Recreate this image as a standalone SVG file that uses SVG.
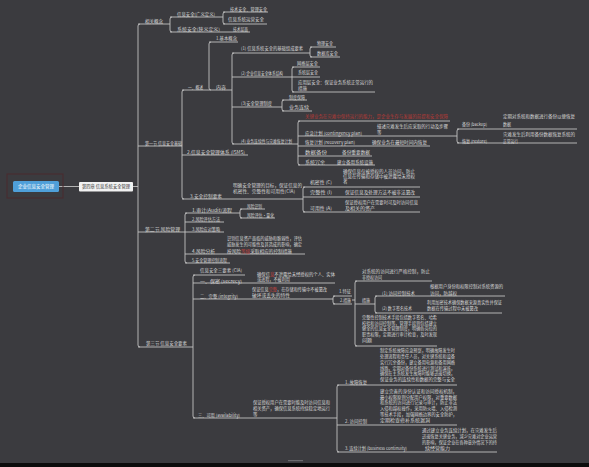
<svg xmlns="http://www.w3.org/2000/svg" width="589" height="467" viewBox="0 0 589 467">
<style>
.t{font-family:"Noto Sans CJK SC","Noto Sans",sans-serif;font-size:4.5px;fill:#d8d8d8}
.r{fill:#c0443f}
.rt{font-family:"Noto Sans CJK SC","Noto Sans",sans-serif;font-size:4.5px;fill:#b83a36}
.c{fill:none;stroke:#c9c9c9;stroke-width:0.85}
</style>
<rect width="589" height="467" fill="#3b3b3f"/>
<rect x="0" y="463" width="589" height="4" fill="#0c0c0c"/>
<rect x="288" y="460" width="15" height="1.2" fill="#6a6a6e"/>

<g id="connectors" class="c">
<path d="M59,186.5H79M133,186.5H138"/>
<path d="M140,24Q138,24 138,26V345Q138,347 140,347"/>
<path d="M138,24H170M138,146H182M138,232H185M138,347H193"/>
<path d="M172,17Q170,17 170,19V30Q170,32 172,32M170,17H223M225,12Q223,12 223,14V22Q223,24 225,24M223,12H268M223,24H267M170,32H250"/>
<path d="M184,90Q182,90 182,92V197Q182,199 184,199M182,90H232"/>
<path d="M211,42Q209,42 209,44V88Q209,90 211,90M209,42H238"/>
<path d="M234,53Q232,53 232,55V142Q232,144 234,144"/>
<path d="M232,53H310M312,47Q310,47 310,49V55Q310,57 312,57M310,47H336M310,57H340"/>
<path d="M232,77H292M294,67Q292,67 292,69V90Q292,92 294,92M292,67H320M292,77H320M292,92H375"/>
<path d="M232,107H282M284,100Q282,100 282,102V109Q282,111 284,111M282,100H307M282,111H312"/>
<path d="M232,144H298M300,121Q298,121 298,123V163Q298,165 300,165M298,121H450M298,136H457M298,146H430M298,156H372M298,165H375"/>
<path d="M459,129Q457,129 457,131V141Q457,143 459,143M457,129H577M457,143H577"/>
<path d="M182,155H248"/>
<path d="M182,199H303M305,187Q303,187 303,189V210Q303,212 305,212M303,187H420M303,197H420M303,212H420"/>
<path d="M187,213Q185,213 185,215V261Q185,263 187,263M185,213H240M242,209Q240,209 240,211V216Q240,218 242,218M240,209H265M240,218H275M185,222H224M185,232H224M185,254H305M185,263H230"/>
<path d="M195,275Q193,275 193,277V416Q193,418 195,418M193,275H245M193,283H335M193,299H333"/>
<path d="M335,296Q333,296 333,298V302Q333,304 335,304M333,296H352M333,304H352M352,300H355"/>
<path d="M357,281Q355,281 355,283V344Q355,346 357,346M355,281H432M355,304H375M355,346H437"/>
<path d="M377,296Q375,296 375,298V311Q375,313 377,313M375,296H505M375,313H502"/>
<path d="M193,418H337M339,385Q337,385 337,387V450Q337,452 339,452M337,385H457M337,425H457M337,452H497"/>
</g>

<g id="root">
<rect x="7" y="174" width="56" height="24" fill="none" stroke="#4a2b2f" stroke-width="1"/>
<rect x="13" y="181" width="46" height="11" rx="1.5" fill="#4f9fd9"/>
<text x="36" y="188.1" text-anchor="middle" class="t" style="fill:#fff">企业信息安全管理</text>
</g>
<g id="chapter">
<rect x="79" y="182" width="54" height="9.5" rx="1" fill="#f2f2f2"/>
<text x="106" y="188.4" text-anchor="middle" class="t" style="fill:#333" textLength="48" lengthAdjust="spacingAndGlyphs">第四章 信息系统安全管理</text>
</g>

<g id="s0"><text class="t" x="145" y="22.6">相关概念</text></g>
<g id="a1"><text class="t" x="177" y="15.6" textLength="38" lengthAdjust="spacingAndGlyphs">信息安全(广义定义)</text></g>
<g id="a1a"><text class="t" x="230" y="10.6" textLength="37" lengthAdjust="spacingAndGlyphs">技术安全、管理安全</text></g>
<g id="a1b"><text class="t" x="228" y="20.6">信息系统运营安全</text></g>
<g id="a2"><text class="t" x="177" y="30.6" textLength="43" lengthAdjust="spacingAndGlyphs">系统安全(狭义定义)</text></g>
<g id="a2a"><text class="t" x="233" y="30.6" textLength="15" lengthAdjust="spacingAndGlyphs">技术层面</text></g>

<g id="s1"><text class="t" x="145" y="144.6" textLength="37" lengthAdjust="spacingAndGlyphs">第一节 信息安全基础</text></g>
<g id="b1"><text class="t" x="188" y="88.6" textLength="15" lengthAdjust="spacingAndGlyphs">一、概述</text></g>
<g id="b1a"><text class="t" x="216" y="39.6" textLength="21" lengthAdjust="spacingAndGlyphs">1.基本概念</text></g>
<g id="b1b"><text class="t" x="216" y="88.6" textLength="10" lengthAdjust="spacingAndGlyphs">内容</text></g>
<g id="c1"><text class="t" x="241" y="49.6" textLength="62" lengthAdjust="spacingAndGlyphs">(1) 信息系统安全的基础组成要素</text></g>
<g id="c1a"><text class="t" x="317" y="44.6" textLength="16" lengthAdjust="spacingAndGlyphs">物理安全</text></g>
<g id="c1b"><text class="t" x="317" y="54.6" textLength="21" lengthAdjust="spacingAndGlyphs">数据库安全</text></g>
<g id="c2"><text class="t" x="241" y="74.6" textLength="42" lengthAdjust="spacingAndGlyphs">(2) 企业信息安全体系结构</text></g>
<g id="c2a"><text class="t" x="297" y="64.6" textLength="21" lengthAdjust="spacingAndGlyphs">网络层安全</text></g>
<g id="c2b"><text class="t" x="298" y="73.6" textLength="20" lengthAdjust="spacingAndGlyphs">系统层安全</text></g>
<g id="c2c"><text class="t" x="298" y="83.6" textLength="75" lengthAdjust="spacingAndGlyphs">应用层安全：保证业务系统正常运行的</text><text class="t" x="298" y="89.6">措施</text></g>
<g id="c3"><text class="t" x="241" y="104.6" textLength="31" lengthAdjust="spacingAndGlyphs">(3)安全管理制度</text></g>
<g id="c3a"><text class="t" x="289" y="98.6" textLength="16" lengthAdjust="spacingAndGlyphs">制度保障</text></g>
<g id="c3b"><text class="t" x="289" y="108.6" textLength="20" lengthAdjust="spacingAndGlyphs">业务连续</text></g>
<g id="c4"><text class="t" x="241" y="142.6" textLength="51" lengthAdjust="spacingAndGlyphs">(4) 业务连续性与灾难恢复计划</text></g>
<g id="c4r"><text class="rt" x="305" y="117.6" textLength="143" lengthAdjust="spacingAndGlyphs">关键业务在灾难中保持运行的能力，是企业生存与发展的前提和安全保障</text></g>
<g id="c4a"><text class="t" x="305" y="134.6" textLength="57" lengthAdjust="spacingAndGlyphs">应急计划 (contingency plan)</text><text class="t" x="377" y="127.6" textLength="71" lengthAdjust="spacingAndGlyphs">描述灾难发生后应采取的行动及步骤</text><text class="t" x="377" y="133.6">等</text></g>
<g id="c4a1"><text class="t" x="462" y="125.6" textLength="25" lengthAdjust="spacingAndGlyphs">备份 (backup)</text><text class="t" x="503" y="117.6" textLength="72" lengthAdjust="spacingAndGlyphs">定期对系统和数据进行备份以便恢复</text><text class="t" x="503" y="125.6" textLength="8" lengthAdjust="spacingAndGlyphs">数据</text></g>
<g id="c4a2"><text class="t" x="462" y="142.6" textLength="25" lengthAdjust="spacingAndGlyphs">恢复 (restore)</text><text class="t" x="503" y="135.6" textLength="72" lengthAdjust="spacingAndGlyphs">灾难发生后利用备份数据恢复系统的</text><text class="t" x="503" y="142.6" textLength="15" lengthAdjust="spacingAndGlyphs">正常运行</text></g>
<g id="c4b"><text class="t" x="305" y="143.6" textLength="50" lengthAdjust="spacingAndGlyphs">恢复计划 (recovery plan)</text><text class="t" x="372" y="143.6" textLength="55" lengthAdjust="spacingAndGlyphs">确保业务在最短时间内恢复</text></g>
<g id="c4c"><text class="t" x="305" y="153.6" textLength="22" lengthAdjust="spacingAndGlyphs">数据备份</text><text class="t" x="342" y="153.6" textLength="28" lengthAdjust="spacingAndGlyphs">备份重要数据</text></g>
<g id="c4d"><text class="t" x="305" y="163.6" textLength="20" lengthAdjust="spacingAndGlyphs">系统冗余</text><text class="t" x="337" y="163.6" textLength="36" lengthAdjust="spacingAndGlyphs">建立备用系统设施</text></g>
<g id="b2"><text class="t" x="187" y="153.6" textLength="58" lengthAdjust="spacingAndGlyphs">2.信息安全管理体系 (ISMS)</text></g>
<g id="b3"><text class="t" x="190" y="197.6" textLength="32" lengthAdjust="spacingAndGlyphs">3.安全控制要素</text><text class="t" x="233" y="186.6" textLength="69" lengthAdjust="spacingAndGlyphs">明确安全管理的目标，保证信息的</text><text class="t" x="233" y="192.6" textLength="62" lengthAdjust="spacingAndGlyphs">机密性、完整性和可用性(CIA)</text></g>
<g id="b3a"><text class="t" x="310" y="183.6" textLength="22" lengthAdjust="spacingAndGlyphs">机密性 (C)</text><text class="t" x="343" y="172.6" textLength="72" lengthAdjust="spacingAndGlyphs">确保信息仅被授权的人员访问，防止</text><text class="t" x="343" y="177.6" textLength="72" lengthAdjust="spacingAndGlyphs">信息在传输和存储中被泄露给未授权</text><text class="t" x="343" y="182.6">者</text></g>
<g id="b3b"><text class="t" x="310" y="193.6" textLength="22" lengthAdjust="spacingAndGlyphs">完整性 (I)</text><text class="t" x="345" y="193.6" textLength="70" lengthAdjust="spacingAndGlyphs">保证信息及处理方法不被非法篡改</text></g>
<g id="b3c"><text class="t" x="310" y="209.6" textLength="22" lengthAdjust="spacingAndGlyphs">可用性 (A)</text><text class="t" x="345" y="203.6" textLength="73" lengthAdjust="spacingAndGlyphs">保证授权用户在需要时可及时访问信息</text><text class="t" x="345" y="209.6" textLength="30" lengthAdjust="spacingAndGlyphs">及相关的资产</text></g>

<g id="s2"><text class="t" x="145" y="230.6" textLength="35" lengthAdjust="spacingAndGlyphs">第二节 风险管理</text></g>
<g id="d1"><text class="t" x="192" y="211.6" textLength="40" lengthAdjust="spacingAndGlyphs">1.审计(Audit)流程</text></g>
<g id="d1a"><text class="t" x="247" y="207.6" textLength="15" lengthAdjust="spacingAndGlyphs">风险识别</text></g>
<g id="d1b"><text class="t" x="247" y="216.6" textLength="27" lengthAdjust="spacingAndGlyphs">风险评估·量化</text></g>
<g id="d2"><text class="t" x="192" y="220.6" textLength="28" lengthAdjust="spacingAndGlyphs">2.风险评估方法</text></g>
<g id="d3"><text class="t" x="192" y="230.6" textLength="28" lengthAdjust="spacingAndGlyphs">3.风险应对策略</text></g>
<g id="d4"><text class="t" x="192" y="252.6" textLength="23" lengthAdjust="spacingAndGlyphs">4.风险分析</text><text class="t" x="227" y="239.6" textLength="75" lengthAdjust="spacingAndGlyphs">识别信息资产面临的威胁和脆弱性，评估</text><text class="t" x="227" y="245.6" textLength="75" lengthAdjust="spacingAndGlyphs">威胁发生的可能性及其造成的影响，确定</text><text class="t" x="227" y="252.6" textLength="65" lengthAdjust="spacingAndGlyphs">按风险<tspan class="r">等级</tspan>采取相应的控制措施</text></g>
<g id="d5"><text class="t" x="192" y="261.6" textLength="35" lengthAdjust="spacingAndGlyphs">5.安全管理控制流程</text></g>

<g id="s3"><text class="t" x="146" y="344.6" textLength="41" lengthAdjust="spacingAndGlyphs">第三节 信息安全要素</text></g>
<g id="e0"><text class="t" x="200" y="271.6" textLength="42" lengthAdjust="spacingAndGlyphs">信息安全三要素 (CIA)</text></g>
<g id="e1"><text class="t" x="200" y="282.6" textLength="42" lengthAdjust="spacingAndGlyphs">一、保密 (secrecy)</text><text class="t" x="257" y="275.6" textLength="78" lengthAdjust="spacingAndGlyphs">确保信<tspan class="r">息</tspan>不泄露给未经授权的个人、实体</text><text class="t" x="257" y="280.6" textLength="33" lengthAdjust="spacingAndGlyphs">或进程，不被利用</text></g>
<g id="e2"><text class="t" x="200" y="297.6" textLength="38" lengthAdjust="spacingAndGlyphs">二、完整 (integrity)</text><text class="t" x="252" y="290.6" textLength="75" lengthAdjust="spacingAndGlyphs">保证信息<tspan class="r">完整</tspan>，在存储和传输中不被篡改</text><text class="t" x="252" y="296.6" textLength="38" lengthAdjust="spacingAndGlyphs">破坏或丢失的特性</text></g>
<g id="e2a"><text class="t" x="339" y="292.6" textLength="12" lengthAdjust="spacingAndGlyphs">1.特征</text></g>
<g id="e2b"><text class="t" x="340" y="301.6" textLength="11" lengthAdjust="spacingAndGlyphs">2.措施</text></g>
<g id="f1"><text class="t" x="362" y="272.6" textLength="68" lengthAdjust="spacingAndGlyphs">对系统的访问进行严格控制，防止</text><text class="t" x="362" y="278.6" textLength="20" lengthAdjust="spacingAndGlyphs">非授权访问</text></g>
<g id="f2"><text class="t" x="362" y="301.6" textLength="8" lengthAdjust="spacingAndGlyphs">措施</text></g>
<g id="g1"><text class="t" x="382" y="294.6" textLength="33" lengthAdjust="spacingAndGlyphs">(1) 访问控制技术</text><text class="t" x="430" y="287.6" textLength="73" lengthAdjust="spacingAndGlyphs">根据用户身份和权限控制对系统资源的</text><text class="t" x="430" y="294.6" textLength="27" lengthAdjust="spacingAndGlyphs">访问，防越权</text></g>
<g id="g2"><text class="t" x="382" y="309.6" textLength="30" lengthAdjust="spacingAndGlyphs">(2) 数字签名技术</text><text class="t" x="427" y="303.6" textLength="75" lengthAdjust="spacingAndGlyphs">利用加密技术确保数据来源真实性并保证</text><text class="t" x="427" y="309.6" textLength="51" lengthAdjust="spacingAndGlyphs">数据在传输过程中未被篡改</text></g>
<g id="f3"><text class="t" x="362" y="318.6" textLength="75" lengthAdjust="spacingAndGlyphs">完整性控制技术手段包括数字签名、哈希</text><text class="t" x="362" y="324.6" textLength="75" lengthAdjust="spacingAndGlyphs">校验和访问控制等，管理手段则包括建立</text><text class="t" x="362" y="329.6" textLength="75" lengthAdjust="spacingAndGlyphs">健全的信息安全管理制度，明确各岗位的</text><text class="t" x="362" y="335.6" textLength="75" lengthAdjust="spacingAndGlyphs">职责权限，定期进行审计检查，及时发现</text><text class="t" x="362" y="341.6" textLength="10" lengthAdjust="spacingAndGlyphs">问题</text></g>
<g id="e3"><text class="t" x="198" y="416.6" textLength="42" lengthAdjust="spacingAndGlyphs">三、可用 (availability)</text><text class="t" x="253" y="403.6" textLength="77" lengthAdjust="spacingAndGlyphs">保证授权用户在需要时能及时访问信息和</text><text class="t" x="253" y="409.6" textLength="77" lengthAdjust="spacingAndGlyphs">相关资产，确保信息系统持续稳定地运行</text><text class="t" x="253" y="415.6">等</text></g>
<g id="h1"><text class="t" x="345" y="383.6" textLength="22" lengthAdjust="spacingAndGlyphs">1. 故障恢复</text><text class="t" x="380" y="351.6" textLength="75" lengthAdjust="spacingAndGlyphs">制定系统故障应急预案，明确故障发生时</text><text class="t" x="380" y="357.6" textLength="75" lengthAdjust="spacingAndGlyphs">处理流程和责任人员，对关键系统和设备</text><text class="t" x="380" y="363.6" textLength="75" lengthAdjust="spacingAndGlyphs">实行冗余备份，建立备用电源和备用网络</text><text class="t" x="380" y="369.6" textLength="75" lengthAdjust="spacingAndGlyphs">线路，定期对备份系统进行测试和演练，</text><text class="t" x="380" y="374.6" textLength="75" lengthAdjust="spacingAndGlyphs">确保在主系统发生故障时能够迅速切换，</text><text class="t" x="380" y="380.6" textLength="75" lengthAdjust="spacingAndGlyphs">保证业务的连续性和数据的完整与安全</text></g>
<g id="h2"><text class="t" x="345" y="422.6" textLength="22" lengthAdjust="spacingAndGlyphs">2. 访问控制</text><text class="t" x="380" y="392.6" textLength="77" lengthAdjust="spacingAndGlyphs">建立完善的身份认证和访问授权机制，</text><text class="t" x="380" y="398.6" textLength="77" lengthAdjust="spacingAndGlyphs">最小权限原则分配用户权限，对重要数据</text><text class="t" x="380" y="403.6" textLength="77" lengthAdjust="spacingAndGlyphs">和系统的访问进行记录与审计，防止非法</text><text class="t" x="380" y="409.6" textLength="77" lengthAdjust="spacingAndGlyphs">入侵和越权操作，采用防火墙、入侵检测</text><text class="t" x="380" y="415.6" textLength="77" lengthAdjust="spacingAndGlyphs">等技术手段，加强网络边界的安全防护，</text><text class="t" x="380" y="421.6" textLength="50" lengthAdjust="spacingAndGlyphs">定期检查修补系统漏洞</text></g>
<g id="h3"><text class="t" x="345" y="449.6" textLength="62" lengthAdjust="spacingAndGlyphs">3. 连续计划 (business continuity)</text><text class="t" x="422" y="431.6" textLength="75" lengthAdjust="spacingAndGlyphs">通过建立业务连续计划，在灾难发生后</text><text class="t" x="422" y="437.6" textLength="75" lengthAdjust="spacingAndGlyphs">迅速恢复关键业务，减少灾难对企业运营</text><text class="t" x="422" y="443.6" textLength="75" lengthAdjust="spacingAndGlyphs">的影响，保证企业在各种意外情况下的持</text><text class="t" x="425" y="449.6" textLength="25" lengthAdjust="spacingAndGlyphs">续经营能力</text></g>
</svg>
